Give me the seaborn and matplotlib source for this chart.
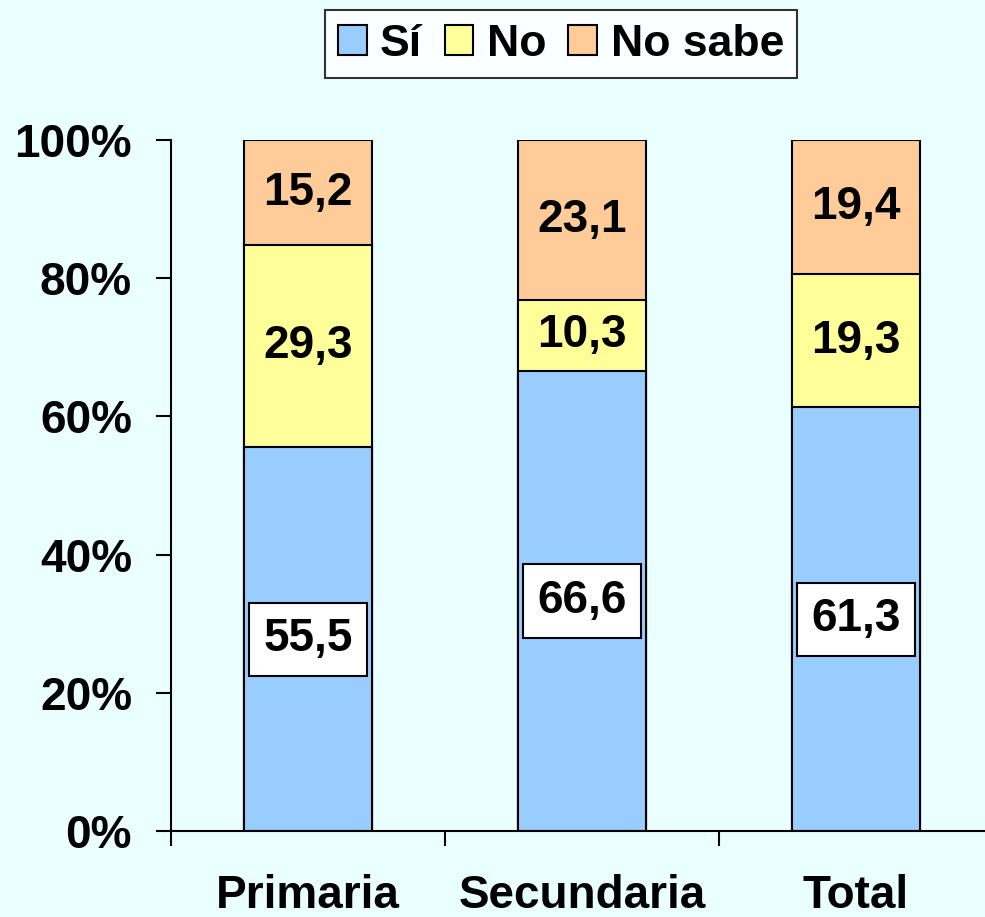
import seaborn as sns
import matplotlib.pyplot as plt
import pandas as pd
from matplotlib.patches import Patch

# data
categorias = ['Primaria', 'Secundaria', 'Total']
si = [55.5, 66.6, 61.3]
no = [29.3, 10.3, 19.3]
no_sabe = [15.2, 23.1, 19.4]
series = ['Sí', 'No', 'No sabe']
colores = ['#99CCFF', '#FFFF99', '#FFCC99']
fondo = '#EAFFFF'

sns.set_style('white')
plt.rcParams['font.family'] = ['Liberation Sans', 'DejaVu Sans']
plt.rcParams['font.weight'] = 'bold'
plt.rcParams['text.color'] = 'black'
plt.rcParams['xtick.color'] = 'black'
plt.rcParams['ytick.color'] = 'black'

df = pd.DataFrame({'cat': categorias, 'si': si, 'no': no, 'no_sabe': no_sabe})
df['c1'] = df['si']
df['c2'] = df['si'] + df['no']
df['c3'] = df['c2'] + df['no_sabe']

fig = plt.figure(figsize=(9.85, 9.17), dpi=100, facecolor=fondo)
ax = fig.add_axes([171 / 985, 86 / 917, 822 / 985, 691 / 917])
ax.set_facecolor(fondo)

# stacked bars: draw cumulative totals from top to bottom
for col, color in zip(['c3', 'c2', 'c1'], colores[::-1]):
    sns.barplot(data=df, x='cat', y=col, color=color, width=0.47,
                edgecolor='black', linewidth=1.5, ax=ax, saturation=1)

ax.set_xlim(-0.5, 2.5)
ax.set_ylim(0, 100)
ax.set_xlabel('')
ax.set_ylabel('')

def fmt(v):
    return f'{v:.1f}'.replace('.', ',')

# value labels
for i in range(len(categorias)):
    ax.text(i, si[i] / 2, fmt(si[i]), ha='center', va='center',
            fontsize=33, fontweight='bold', color='black',
            bbox=dict(boxstyle='square,pad=0.32', fc='white', ec='black', lw=1.5))
    ax.text(i, si[i] + no[i] / 2, fmt(no[i]), ha='center', va='center',
            fontsize=33, fontweight='bold', color='black')
    ax.text(i, si[i] + no[i] + no_sabe[i] / 2, fmt(no_sabe[i]), ha='center',
            va='center', fontsize=33, fontweight='bold', color='black')

# axes styling
for s in ['top', 'right']:
    ax.spines[s].set_visible(False)
for s in ['left', 'bottom']:
    ax.spines[s].set_linewidth(1.5)
    ax.spines[s].set_color('black')

ax.set_yticks(range(0, 101, 20))
ax.set_yticklabels([f'{v}%' for v in range(0, 101, 20)], fontsize=33, fontweight='bold')
ax.tick_params(axis='y', direction='out', length=11, width=1.5, pad=17, left=True)

ax.set_xticks([-0.5, 0.5, 1.5, 2.5])
ax.set_xticklabels([])
ax.tick_params(axis='x', which='major', direction='out', length=11, width=1.5, bottom=True)
ax.set_xticks([0, 1, 2], minor=True)
ax.set_xticklabels(categorias, minor=True, fontsize=33, fontweight='bold')
ax.tick_params(axis='x', which='minor', length=0, pad=31)

handles = [Patch(facecolor=c, edgecolor='black', linewidth=1.5, label=l)
           for c, l in zip(colores, series)]
leg = fig.legend(handles=handles, loc='center', bbox_to_anchor=(561 / 985, 1 - 44 / 917),
                 ncol=3, frameon=True, fancybox=False, edgecolor='black',
                 handlelength=0.65, handleheight=0.65, handletextpad=0.3,
                 columnspacing=0.5, borderpad=0.3, prop={'weight': 'bold', 'size': 32})
leg.get_frame().set_linewidth(1.5)
leg.get_frame().set_facecolor('white')

fig.savefig('out.png', dpi=100, facecolor=fondo)
